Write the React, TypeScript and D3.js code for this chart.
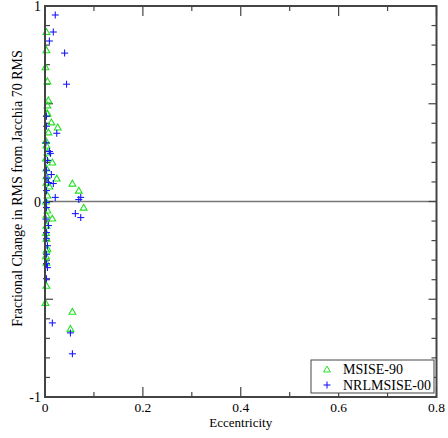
import React from "react";
import * as d3 from "d3";

const msise90: [number, number][] = [
  [0.003, 0.867], [0.003, 0.774], [0.001, 0.687], [0.005, 0.615], [0.007, 0.518],
  [0.005, 0.492], [0.005, 0.451], [0.013, 0.405], [0.026, 0.379], [0.007, 0.354],
  [0.003, 0.287], [0.005, 0.251], [0.015, 0.2], [0.003, 0.169], [0.024, 0.118],
  [0.003, 0.097], [0.009, 0.077], [0.056, 0.092], [0.069, 0.056], [0.079, -0.031],
  [0.005, 0.031], [0.005, -0.046], [0.015, -0.087], [0.003, -0.123], [0.003, -0.19],
  [0.005, -0.241], [0.003, -0.313], [0.003, -0.431], [0.001, -0.518], [0.056, -0.564],
  [0.052, -0.651], [0.002, 0.31], [0.002, 0.22], [0.003, 0.13], [0.002, 0.0],
  [0.003, -0.07], [0.002, -0.16], [0.003, -0.25], [0.002, -0.28], [0.004, 0.45],
];

const nrlmsise00: [number, number][] = [
  [0.021, 0.954], [0.017, 0.867], [0.009, 0.821], [0.04, 0.759], [0.044, 0.6],
  [0.003, 0.436], [0.003, 0.385], [0.024, 0.349], [0.009, 0.256], [0.011, 0.246],
  [0.005, 0.21], [0.013, 0.138], [0.007, 0.097], [0.017, 0.092], [0.003, 0.056],
  [0.021, 0.021], [0.073, 0.021], [0.069, 0.01], [0.003, -0.005], [0.003, -0.031],
  [0.062, -0.062], [0.073, -0.082], [0.007, -0.123], [0.003, -0.159], [0.003, -0.19],
  [0.005, -0.226], [0.003, -0.318], [0.005, -0.338], [0.003, -0.395], [0.015, -0.621],
  [0.052, -0.672], [0.056, -0.779], [0.002, 0.3], [0.003, 0.16], [0.002, -0.09],
  [0.003, -0.27], [0.004, 0.12],
];

const xTicks = [0, 0.2, 0.4, 0.6, 0.8];
const xTickLabels = ["0", "0.2", "0.4", "0.6", "0.8"];
const yTicks = [-1, 0, 1];
const yTickLabels = ["-1", "0", "1"];
const seriesNames = ["MSISE-90", "NRLMSISE-00"];

const W = 448, H = 438;
const L = 45, R = 436.5, T = 6, B = 397;
const FONT = "'Liberation Serif', 'DejaVu Serif', serif";
const AX = "#444";

export default function App() {
  const x = d3.scaleLinear().domain([0, 0.8]).range([L, R]);
  const y = d3.scaleLinear().domain([-1, 1]).range([B, T]);
  const xMinor = d3.range(0, 0.8001, 0.1);
  const yMinor = d3.range(-1, 1.0001, 0.1);
  const tri = d3.symbol().type(d3.symbolTriangle).size(20)() as string;
  const plus = (cx: number, cy: number, k: number) => (
    <g key={k} stroke="#1a1aff" strokeWidth={1.1}>
      <line x1={cx - 3.5} x2={cx + 3.5} y1={cy} y2={cy} />
      <line x1={cx} x2={cx} y1={cy - 3.5} y2={cy + 3.5} />
    </g>
  );
  return (
    <svg width={W} height={H} style={{ position: "absolute", left: 0, top: 0, background: "#fff" }}>
      <line x1={L} x2={R} y1={y(0)} y2={y(0)} stroke="#777" strokeWidth={1.5} />
      {xMinor.map((v, i) => {
        const major = i % 2 === 0;
        const len = major ? 10 : 5;
        return (
          <g key={"xt" + i} stroke={AX} strokeWidth={1.2}>
            <line x1={x(v)} x2={x(v)} y1={B} y2={B - len} />
            <line x1={x(v)} x2={x(v)} y1={T} y2={T + len} />
          </g>
        );
      })}
      {yMinor.map((v, i) => {
        const major = i % 5 === 0;
        const len = major ? 8 : 5;
        return (
          <g key={"yt" + i} stroke={AX} strokeWidth={1.2}>
            <line x1={L} x2={L + len} y1={y(v)} y2={y(v)} />
            <line x1={R} x2={R - len} y1={y(v)} y2={y(v)} />
          </g>
        );
      })}
      {msise90.map((d, i) => (
        <path key={"m" + i} d={tri} transform={`translate(${x(d[0])},${y(d[1]) + 0.6})`}
          fill="none" stroke="#22e022" strokeWidth={1.1} />
      ))}
      {nrlmsise00.map((d, i) => plus(x(d[0]), y(d[1]), i))}
      <rect x={L} y={T} width={R - L} height={B - T} fill="none" stroke={AX} strokeWidth={2} />
      {xTicks.map((v, i) => (
        <text key={"xl" + i} x={x(v)} y={B + 15} textAnchor="middle" fontFamily={FONT} fontSize={13.5}>
          {xTickLabels[i]}
        </text>
      ))}
      {yTicks.map((v, i) => (
        <text key={"yl" + i} x={L - 4} y={y(v) + 5} textAnchor="end" fontFamily={FONT} fontSize={14}>
          {yTickLabels[i]}
        </text>
      ))}
      <text x={(L + R) / 2} y={427} textAnchor="middle" fontFamily={FONT} fontSize={13}>
        Eccentricity
      </text>
      <text transform={`translate(22,${(T + B) / 2 - 13}) rotate(-90)`} textAnchor="middle" fontFamily={FONT} fontSize={14}>
        Fractional Change in RMS from Jacchia 70 RMS
      </text>
      <rect x={311} y={360} width={123} height={33} fill="#fff" stroke={AX} strokeWidth={1} />
      <path d={tri} transform={`translate(327,370)`} fill="none" stroke="#22e022" strokeWidth={1} />
      {plus(327, 385, 999)}
      <text x={343} y={374} fontFamily={FONT} fontSize={14}>{seriesNames[0]}</text>
      <text x={343} y={390} fontFamily={FONT} fontSize={14}>{seriesNames[1]}</text>
    </svg>
  );
}
